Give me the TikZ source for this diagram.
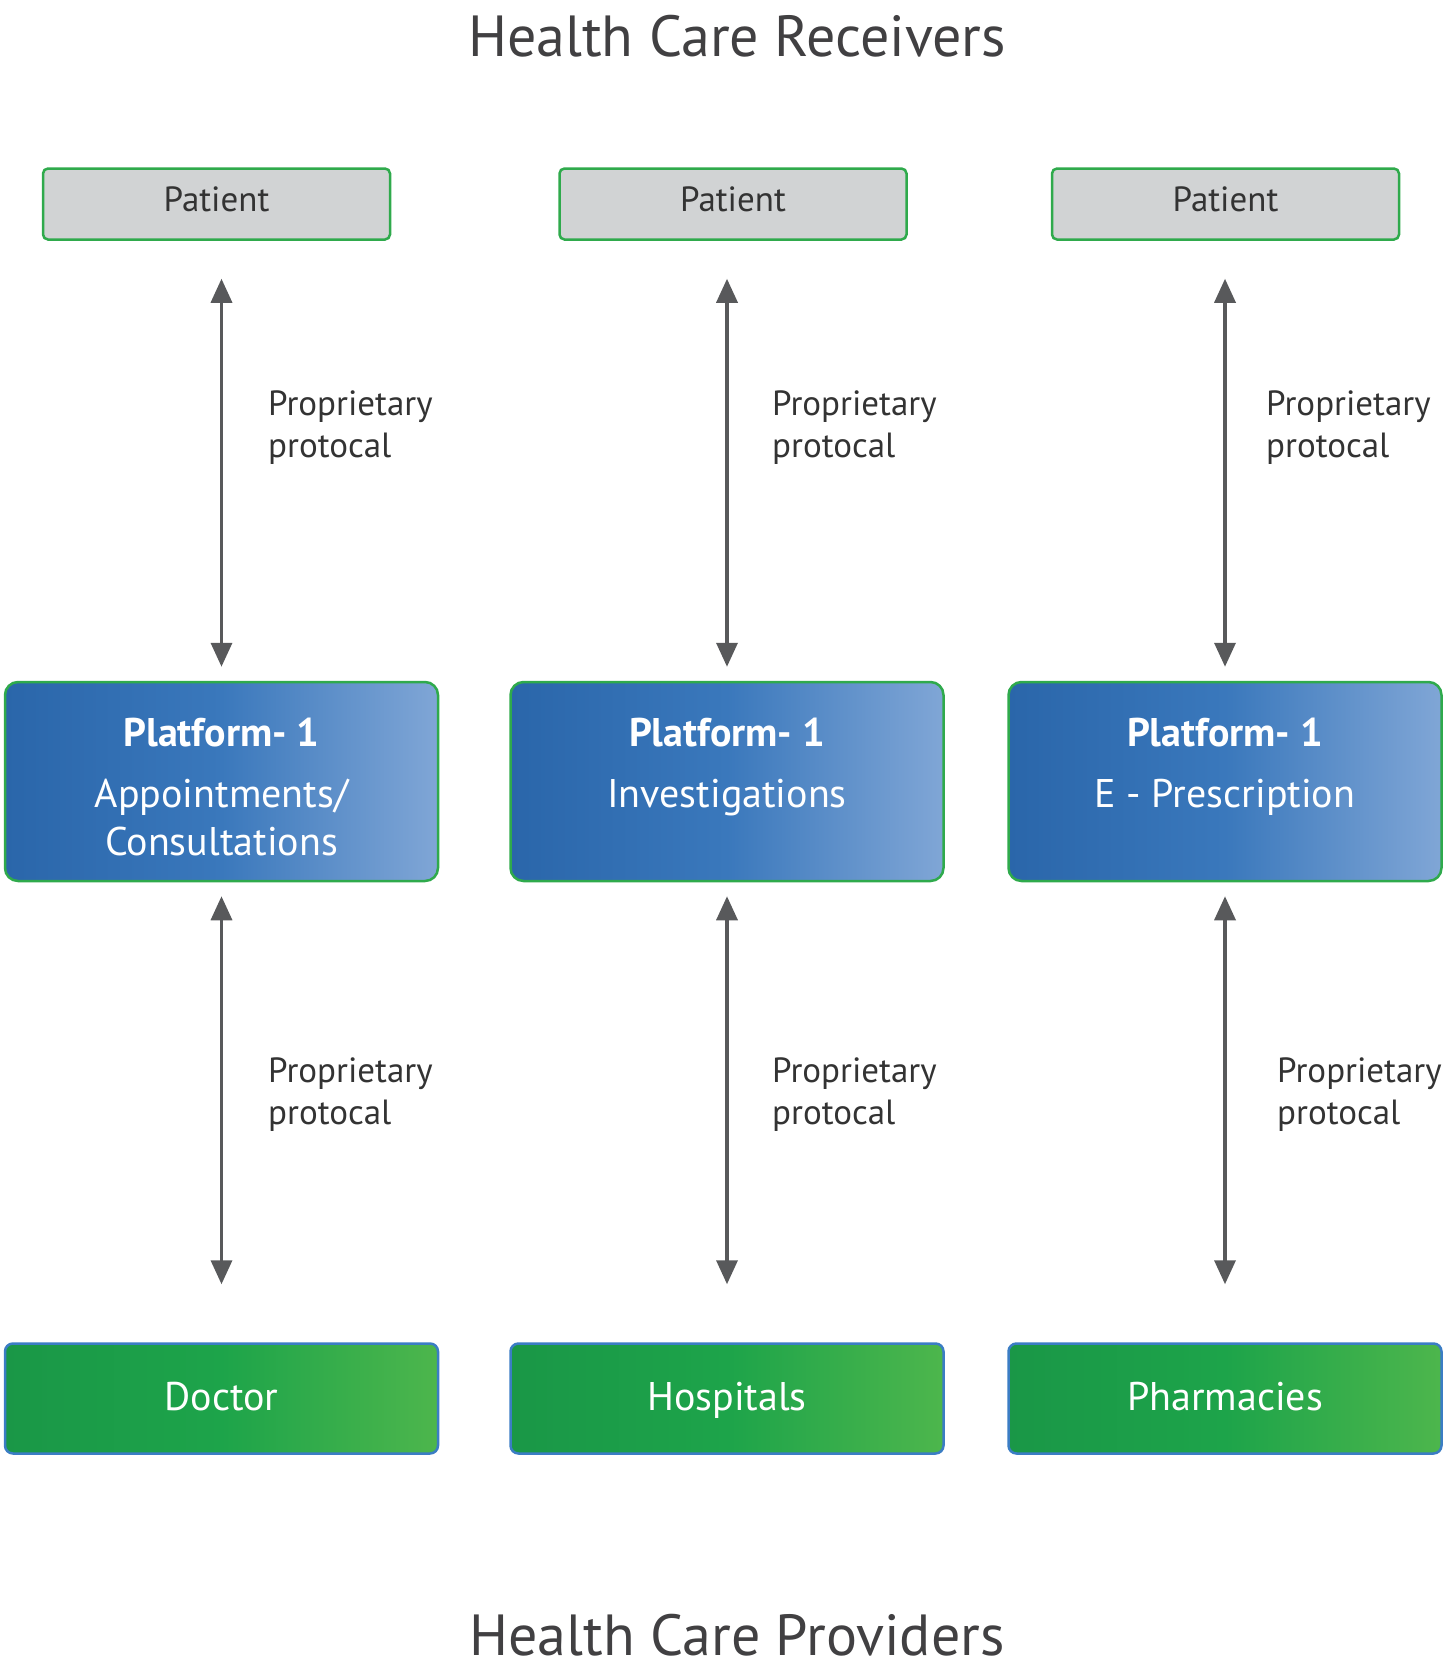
\documentclass[tikz,border=0pt]{standalone}
\usepackage{fontspec}
\setmainfont{PT Sans}
\usepackage{xcolor}
\usepackage{tikz}
\usetikzlibrary{arrows.meta}
\definecolor{ttlgray}{HTML}{414042}
\definecolor{txtgray}{HTML}{333333}
\definecolor{arrgray}{HTML}{58595B}
\definecolor{boxgray}{HTML}{D1D3D4}
\definecolor{edgegreen}{HTML}{2FAA4C}
\definecolor{edgeblue}{HTML}{3B7DC4}
\definecolor{platleft}{HTML}{2A66AA}
\definecolor{platmid}{HTML}{3A78BC}
\definecolor{platright}{HTML}{80A6D6}
\definecolor{provleft}{HTML}{1A9747}
\definecolor{provmid}{HTML}{1DA44A}
\definecolor{provright}{HTML}{4DB64C}

\tikzset{
  recv/.style={draw=edgegreen, line width=2.5pt, fill=boxgray, rounded corners=5pt,
    minimum width=347pt, minimum height=71pt, inner sep=0pt, text height=43pt, text depth=28pt,
    text=txtgray, font=\fontsize{35}{42}\selectfont},
  plat/.style={draw=edgegreen, line width=2.5pt, rounded corners=13pt,
    left color=platleft, right color=platright, middle color=platmid,
    minimum width=433pt, minimum height=199pt,
    inner sep=0pt, text height=125pt, text depth=74pt, align=center, text=white,
    font=\fontsize{40}{48}\selectfont},
  prov/.style={draw=edgeblue, line width=2.5pt, rounded corners=8pt,
    left color=provleft, right color=provright, middle color=provmid,
    minimum width=433pt, minimum height=110pt,
    inner sep=0pt, text height=67pt, text depth=43pt, text=white,
    font=\fontsize{40}{48}\selectfont},
  conn/.style={draw=arrgray, line width=3.5pt,
    {Triangle[length=24pt,width=21pt]}-{Triangle[length=24pt,width=21pt]}},
  lbl/.style={anchor=base west, align=left, inner sep=0pt, text=txtgray,
    font=\fontsize{35}{42}\selectfont},
  ttl/.style={anchor=base, inner sep=0pt, text=ttlgray, font=\fontsize{58}{68}\selectfont}
}

\begin{document}
\begin{tikzpicture}[x=1pt, y=-1pt]
\useasboundingbox (0,0) rectangle (1449,1668);
\node at (737, 56) [ttl] (top) {Health Care Receivers};
\node at (737, 1655) [ttl] (bottom) {Health Care Providers};
\node at (216.5, 204) [recv] (pa1) {Patient};
\node at (733, 204) [recv] (pa2) {Patient};
\node at (1225.5, 204) [recv] (pa3) {Patient};
\node at (221.5, 781.5) [plat, text height=173pt, text depth=26pt] (pl1) {\textbf{Platform- 1}\\[13pt]Appointments/\\Consultations};
\node at (727, 781.5) [plat] (pl2) {\textbf{Platform- 1}\\[13pt]Investigations};
\node at (1225, 781.5) [plat] (pl3) {\textbf{Platform- 1}\\[13pt]E - Prescription};
\node at (221.5, 1398.5) [prov] (pr1) {Doctor};
\node at (727, 1398.5) [prov] (pr2) {Hospitals};
\node at (1225, 1398.5) [prov] (pr3) {Pharmacies};
\node at (268, 457) [lbl] (up1) {Proprietary\\protocal};
\node at (772, 457) [lbl] (up2) {Proprietary\\protocal};
\node at (1266, 457) [lbl] (up3) {Proprietary\\protocal};
\node at (268, 1124) [lbl] (lo1) {Proprietary\\protocal};
\node at (772, 1124) [lbl] (lo2) {Proprietary\\protocal};
\node at (1277, 1124) [lbl] (lo3) {Proprietary\\protocal};
\draw [conn, shorten <=38pt, shorten >=14pt] (pa1.south -| pl1.north) to (pl1.north);
\draw [conn, shorten <=38pt, shorten >=14pt] (pa2.south -| pl2.north) to (pl2.north);
\draw [conn, shorten <=38pt, shorten >=14pt] (pa3.south -| pl3.north) to (pl3.north);
\draw [conn, shorten <=14pt, shorten >=58pt] (pl1.south) to (pr1.north);
\draw [conn, shorten <=14pt, shorten >=58pt] (pl2.south) to (pr2.north);
\draw [conn, shorten <=14pt, shorten >=58pt] (pl3.south) to (pr3.north);
\end{tikzpicture}
\end{document}
